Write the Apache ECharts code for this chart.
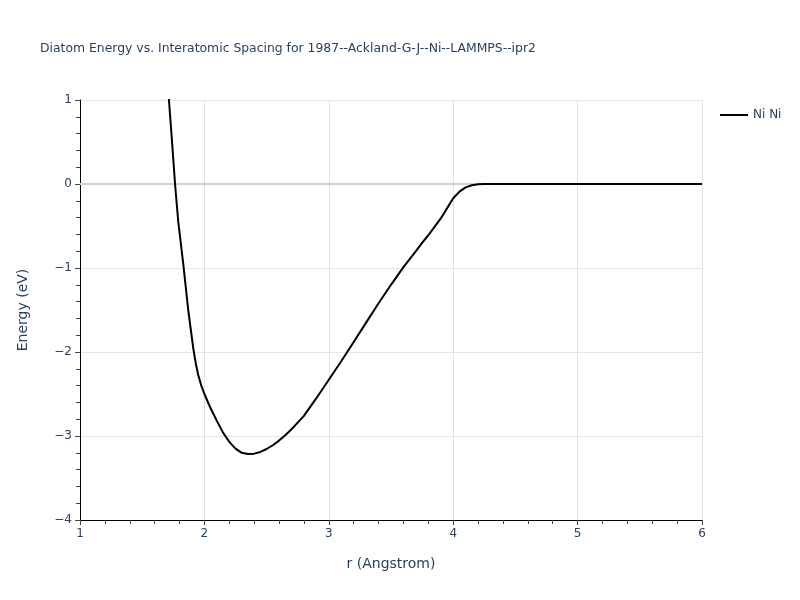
<!DOCTYPE html>
<html>
<head>
<meta charset="utf-8">
<script src="https://cdn.jsdelivr.net/npm/echarts@6/dist/echarts.min.js"></script>
<style>html,body{margin:0;padding:0;background:#fff}#c{width:800px;height:600px}</style>
</head>
<body>
<div id="c"></div>
<script>
var rValues = [1.70, 1.715, 1.74, 1.764, 1.79, 1.83, 1.87, 1.91, 1.93, 1.95, 1.975, 2.0, 2.05, 2.10, 2.15, 2.2, 2.25, 2.3, 2.35, 2.4, 2.45, 2.5, 2.55, 2.6, 2.65, 2.7, 2.75, 2.8, 2.9, 3.0, 3.1, 3.2, 3.3, 3.4, 3.5, 3.6, 3.7, 3.75, 3.8, 3.85, 3.9, 3.95, 4.0, 4.05, 4.1, 4.15, 4.2, 4.25, 4.3, 4.5, 5.0, 5.5, 6.0];
var energyValues = [1.3, 1.0, 0.5, 0.0, -0.45, -0.95, -1.5, -1.95, -2.13, -2.27, -2.40, -2.50, -2.67, -2.82, -2.96, -3.07, -3.15, -3.2, -3.215, -3.21, -3.19, -3.155, -3.11, -3.055, -2.99, -2.92, -2.84, -2.76, -2.55, -2.33, -2.11, -1.88, -1.65, -1.42, -1.20, -0.99, -0.80, -0.70, -0.61, -0.51, -0.41, -0.29, -0.17, -0.09, -0.04, -0.015, -0.004, 0, 0, 0, 0, 0, 0];
var seriesName = 'Ni Ni';
var titleText = 'Diatom Energy vs. Interatomic Spacing for 1987--Ackland-G-J--Ni--LAMMPS--ipr2';

var data = rValues.map(function (r, i) { return [r, energyValues[i]]; });
var font = '"DejaVu Sans", verdana, arial, sans-serif';
var txt = '#2a3f5f';
var chart = echarts.init(document.getElementById('c'), null, {renderer: 'canvas'});
chart.setOption({
  animation: false,
  backgroundColor: '#fff',
  title: {
    text: titleText, left: 35, top: 38,
    textStyle: {fontFamily: font, fontSize: 12.4, fontWeight: 'normal', color: txt}
  },
  legend: {
    left: 715, top: 104, orient: 'vertical', itemWidth: 28, itemHeight: 2, itemGap: 8,
    icon: 'rect',
    textStyle: {fontFamily: font, fontSize: 12, color: txt},
    data: [{name: seriesName, icon: 'rect'}]
  },
  grid: {left: 80, right: 98, top: 100, bottom: 80},
  xAxis: {
    type: 'value', min: 1, max: 6, interval: 1,
    name: 'r (Angstrom)', nameLocation: 'middle', nameGap: 37,
    nameTextStyle: {fontFamily: font, fontSize: 14, color: txt},
    axisLine: {show: true, onZero: false, lineStyle: {color: '#000', width: 1}},
    axisTick: {show: true, length: 5, lineStyle: {color: '#444'}},
    minorTick: {show: true, splitNumber: 5, length: 4, lineStyle: {color: '#444'}},
    axisLabel: {fontFamily: font, fontSize: 12, color: txt, margin: 8},
    splitLine: {show: true, lineStyle: {color: '#e0e0e0', width: 1}}
  },
  yAxis: {
    type: 'value', min: -4, max: 1, interval: 1,
    name: 'Energy (eV)', nameLocation: 'middle', nameGap: 50,
    nameTextStyle: {fontFamily: font, fontSize: 14, color: txt},
    axisLine: {show: true, onZero: false, lineStyle: {color: '#000', width: 1}},
    axisTick: {show: true, length: 5, lineStyle: {color: '#444'}},
    minorTick: {show: true, splitNumber: 5, length: 4, lineStyle: {color: '#444'}},
    axisLabel: {fontFamily: font, fontSize: 12, color: txt, margin: 8,
      formatter: function (v) { return v < 0 ? '\u2212' + Math.abs(v) : String(v); }},
    splitLine: {show: true, lineStyle: {color: '#e5e5e5', width: 1}}
  },
  series: [{
    name: seriesName, type: 'line', data: data, showSymbol: false, symbol: 'none',
    smooth: false, clip: true,
    lineStyle: {color: '#000', width: 2}, itemStyle: {color: '#000'},
    markLine: {
      silent: true, symbol: 'none', label: {show: false},
      lineStyle: {color: '#d0d0d0', width: 2, type: 'solid'},
      data: [{yAxis: 0}], z: 1
    },
    z: 3
  }]
});
</script>
</body>
</html>
